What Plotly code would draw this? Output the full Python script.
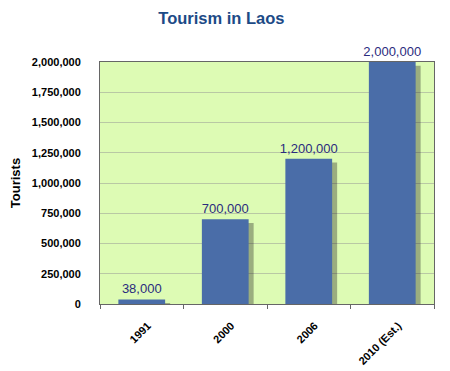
import plotly.graph_objects as go

categories = ["1991", "2000", "2006", "2010 (Est.)"]
tourists = [38000, 700000, 1200000, 2000000]
labels = ["38,000", "700,000", "1,200,000", "2,000,000"]
yticks = [0, 250000, 500000, 750000, 1000000, 1250000, 1500000, 1750000, 2000000]

fig = go.Figure()
# soft drop shadow behind the bars
fig.add_trace(go.Bar(
    x=categories, y=tourists, base=-30000, width=0.56, offset=-0.22,
    cliponaxis=False, hoverinfo="skip",
    marker=dict(color="rgba(30,30,30,0.35)", line=dict(width=0)),
))
fig.add_trace(go.Bar(
    x=categories, y=tourists, text=labels, textposition="outside",
    width=0.56, offset=-0.28,
    cliponaxis=False, constraintext="none",
    textfont=dict(family="Liberation Sans, Arial", size=13, color="#2B2B7E"),
    marker=dict(color="#4A6DA8", line=dict(width=0)),
))
fig.update_layout(
    width=450, height=371,
    margin=dict(l=100, r=16, t=62, b=67, autoexpand=False),
    paper_bgcolor="white", plot_bgcolor="#DDFBB4",
    barmode="overlay",
    showlegend=False,
    title=dict(text="<b>Tourism in Laos</b>", x=0.492, xanchor="center", y=0.952, yanchor="middle",
               font=dict(family="Liberation Sans, Arial", size=16.5, color="#1C4A86")),
    font=dict(family="Liberation Sans, Arial", color="black"),
)
fig.update_yaxes(
    range=[0, 2000000], tickvals=yticks, tickformat=",d",
    tickfont=dict(size=11, color="black", weight="bold"),
    showgrid=True, gridcolor="#B9C8A4", gridwidth=1,
    showline=True, linecolor="#666666", linewidth=1, mirror=True,
    ticks="", ticklabelstandoff=16, automargin=False,
    title=dict(text="<b>Tourists</b>", font=dict(size=13, color="black"), standoff=8),
    zeroline=False,
)
fig.update_xaxes(
    tickangle=-45, tickfont=dict(size=11, color="black", weight="bold"),
    showline=True, linecolor="#666666", linewidth=1, mirror=True,
    ticks="outside", tickson="boundaries", ticklen=4, tickcolor="#666666",
    automargin=False, ticklabelstandoff=10, ticklabelshift=6,
)
fig.write_html("out.html", config={"displayModeBar": False},
               post_script="document.body.style.margin='0';")
